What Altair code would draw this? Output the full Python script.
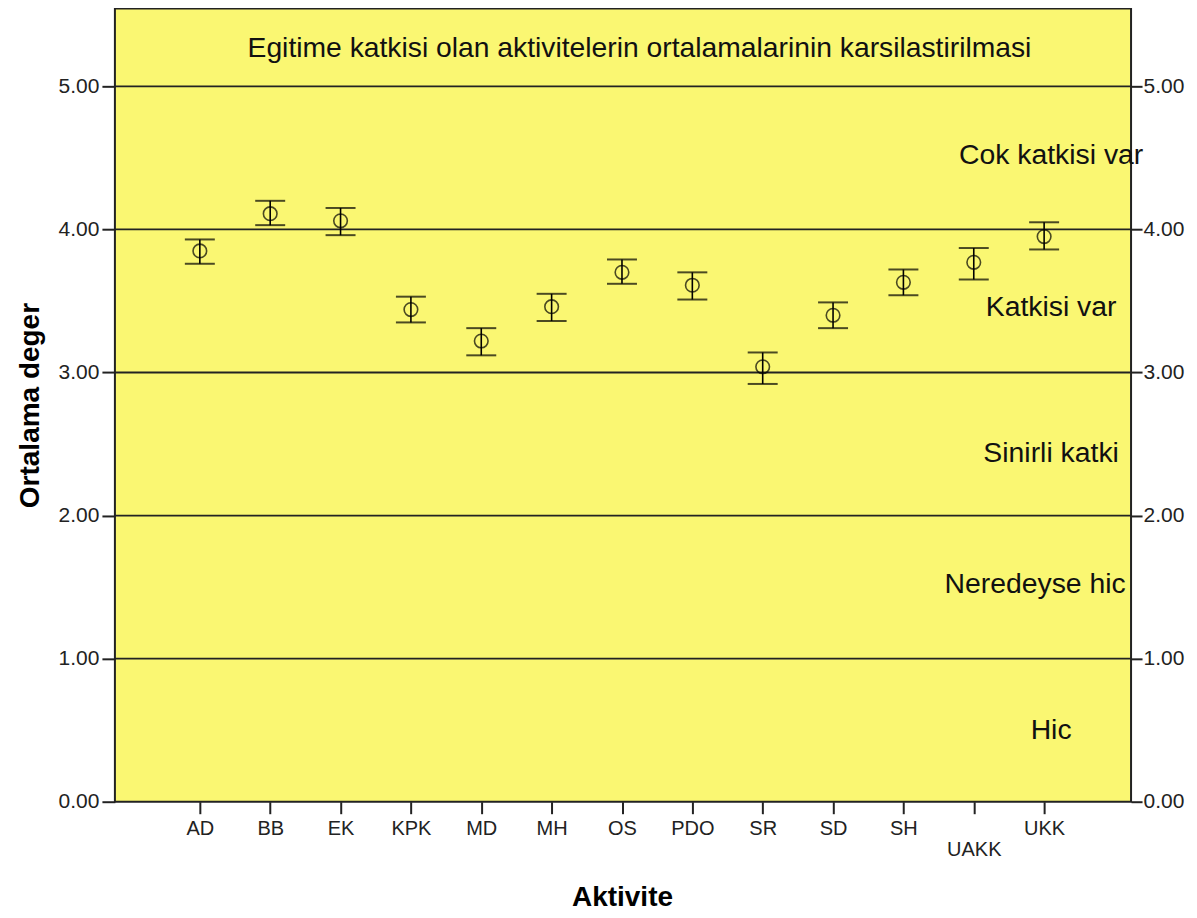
import altair as alt
import pandas as pd

# ---- data ----
categories = ["AD", "BB", "EK", "KPK", "MD", "MH", "OS", "PDO", "SR", "SD", "SH", "UAKK", "UKK"]
means = [3.85, 4.11, 4.06, 3.44, 3.22, 3.46, 3.70, 3.61, 3.04, 3.40, 3.63, 3.77, 3.95]
lows = [3.76, 4.03, 3.96, 3.35, 3.12, 3.36, 3.62, 3.51, 2.92, 3.31, 3.54, 3.65, 3.86]
highs = [3.93, 4.20, 4.15, 3.53, 3.31, 3.55, 3.79, 3.70, 3.14, 3.49, 3.72, 3.87, 4.05]

band_labels = ["Cok katkisi var", "Katkisi var", "Sinirli katki", "Neredeyse hic", "Hic"]
band_values = [4.52, 3.46, 2.44, 1.52, 0.50]

y_ticks = [0, 1, 2, 3, 4, 5]
grid_values = [1, 2, 3, 4, 5]
chart_title = "Egitime katkisi olan aktivitelerin ortalamalarinin karsilastirilmasi"

FONT = "Liberation Sans"

df = pd.DataFrame({"cat": categories, "mean": means, "lo": lows, "hi": highs})
bands = pd.DataFrame({"label": band_labels, "v": band_values})
gdf = pd.DataFrame({"g": grid_values})
tdf = pd.DataFrame({"t": [chart_title]})

x_enc = alt.X(
    "cat:N",
    scale=alt.Scale(type="point", domain=categories, range=[85, 930], padding=0),
    axis=alt.Axis(
        title="Aktivite",
        titleFont=FONT, titleFontSize=28, titleFontWeight="bold", titleColor="#000",
        titlePadding=24,
        labelAngle=0, labelFont=FONT, labelFontSize=20, labelColor="#222",
        labelExpr="datum.value == 'UAKK' ? ['', 'UAKK'] : datum.value",
        labelLineHeight=21, labelPadding=5,
        tickSize=12, tickColor="#222", tickWidth=2,
        domain=False, grid=False,
    ),
)

yscale = alt.Scale(domain=[0, 5.545], nice=False, zero=True)

left_axis = alt.Axis(
    orient="left", values=y_ticks, format=".2f",
    title="Ortalama deger",
    titleFont=FONT, titleFontSize=28, titleFontWeight="bold", titleColor="#000",
    titlePadding=14,
    labelFont=FONT, labelFontSize=21, labelColor="#222", labelPadding=3,
    tickSize=13, tickColor="#222", tickWidth=2,
    domain=False, grid=False,
)
right_axis = alt.Axis(
    orient="right", values=y_ticks, format=".2f", title=None,
    labelFont=FONT, labelFontSize=21, labelColor="#222", labelPadding=1,
    tickSize=11, tickColor="#222", tickWidth=2,
    domain=False, grid=False,
)

grid = alt.Chart(gdf).mark_rule(color="#222", strokeWidth=1.8).encode(
    y=alt.Y("g:Q", scale=yscale, axis=left_axis),
)

base = alt.Chart(df)

rules = base.mark_rule(color="#000", strokeWidth=1.6).encode(
    x=x_enc,
    y=alt.Y("lo:Q", scale=yscale, axis=None),
    y2="hi:Q",
)
caps_lo = base.mark_tick(color="#000", size=30, thickness=2).encode(
    x="cat:N",
    y=alt.Y("lo:Q", scale=yscale, axis=right_axis),
)
caps_hi = base.mark_tick(color="#000", size=30, thickness=2).encode(
    x="cat:N",
    y=alt.Y("hi:Q", scale=yscale, axis=None),
)
points = base.mark_point(shape="circle", filled=False, size=185, strokeWidth=1.6, color="#000").encode(
    x="cat:N",
    y=alt.Y("mean:Q", scale=yscale, axis=None),
)
band_text_main = alt.Chart(bands).transform_filter(
    alt.datum.label != "Neredeyse hic"
).mark_text(
    font=FONT, fontSize=28.4, color="#111", align="center", baseline="middle", dx=7
).encode(
    x=alt.datum("UKK"),
    y=alt.Y("v:Q", scale=yscale, axis=None),
    text="label:N",
)
band_text_ned = alt.Chart(bands).transform_filter(
    alt.datum.label == "Neredeyse hic"
).mark_text(
    font=FONT, fontSize=28.4, color="#111", align="center", baseline="middle", dx=-9
).encode(
    x=alt.datum("UKK"),
    y=alt.Y("v:Q", scale=yscale, axis=None),
    text="label:N",
)
title_text = alt.Chart(tdf).mark_text(
    font=FONT, fontSize=28.3, color="#111", align="center", baseline="middle"
).encode(
    x=alt.value(525),
    y=alt.value(41),
    text="t:N",
)

chart = (
    alt.layer(grid, rules, caps_lo, caps_hi, points, band_text_main, band_text_ned, title_text)
    .resolve_axis(y="independent")
    .properties(width=1017, height=794, padding={"left": 8, "top": 0, "right": 5, "bottom": 5},
                background="white")
    .configure_view(fill="#FAF772", stroke="#222", strokeWidth=2)
)

chart.save("out.html", embed_options={"renderer": "svg", "actions": False})
